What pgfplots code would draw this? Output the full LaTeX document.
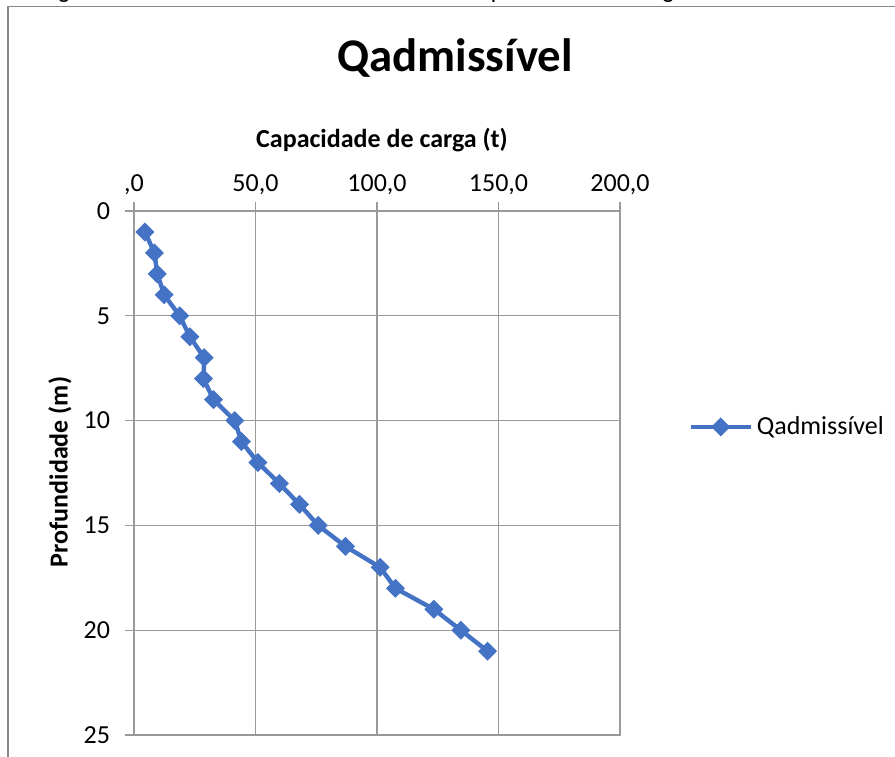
\documentclass[border=0pt]{standalone}
\usepackage{fontspec}
\setmainfont{Carlito}
\newfontfamily\arialf{Liberation Sans}
\usepackage{pgfplots}
\pgfplotsset{compat=1.18}
\definecolor{xlblue}{HTML}{4472C4}
\definecolor{gridgray}{HTML}{9A9A9A}
\definecolor{bordergray}{HTML}{888888}
\begin{document}
\begin{tikzpicture}[x=1pt,y=1pt]
\useasboundingbox (-67,-10.5) rectangle (380.5,367.5);
\clip (-67,-10.5) rectangle (380.5,367.5);
\node[anchor=base west, inner sep=0pt, font=\arialf\fontsize{12}{12}\selectfont] at (-48.5,368.6) {Figura 8 - Gráfico dos dados obtidos de capacidade de carga};
\draw[bordergray, line width=0.6pt] (-63,364.2) rectangle (400,-30);
\begin{axis}[
  at={(0,0)}, anchor=south west,
  scale only axis, width=243pt, height=262pt,
  xmin=0, xmax=200, ymin=0, ymax=25, y dir=reverse,
  xtick={0,50,100,150,200},
  xticklabels={{,0},{50,0},{100,0},{150,0},{200,0}},
  ytick={0,5,10,15,20,25},
  yticklabels={0,5,10,15,20,25},
  xtick pos=upper, xticklabel pos=upper, ytick pos=left,
  grid=major, grid style={gridgray, line width=0.6pt},
  axis line style={gridgray, line width=0.6pt},
  tick style={gridgray, line width=0.6pt},
  tick align=outside, major tick length=4.5pt,
  xticklabel style={font=\fontsize{13}{13}\selectfont, text=black},
  yticklabel style={font=\fontsize{13}{13}\selectfont, text=black, xshift=-4pt},
  legend style={at={(1.14,0.588)}, anchor=west, draw=none, fill=none,
    font=\fontsize{13}{13}\selectfont, inner sep=0pt},
  legend image code/.code={\draw[mark repeat=2,mark phase=2,#1] plot coordinates {(0pt,0pt) (15pt,0pt) (30pt,0pt)};},
  clip=false,
]
\addplot[color=xlblue, line width=2.2pt, mark=square*, mark size=3.1pt, mark options={solid, rotate=45, fill=xlblue, line width=0.5pt}]
coordinates {
(4.5,1) (8.4,2) (9.6,3) (12.4,4) (18.8,5) (23.0,6) (28.9,7) (28.6,8) (32.7,9)
(41.5,10) (44.2,11) (51.0,12) (59.8,13) (68.1,14) (75.8,15) (87.0,16)
(101.3,17) (107.6,18) (123.4,19) (134.5,20) (145.5,21)
};
\addlegendentry{Qadmissível}
\end{axis}
\node[anchor=base, font=\bfseries\fontsize{23.4}{23.4}\selectfont] at (160.5,331.5) {Qadmissível};
\node[anchor=base, font=\bfseries\fontsize{13}{13}\selectfont] at (124,293.5) {Capacidade de carga (t)};
\node[rotate=90, font=\bfseries\fontsize{13}{13}\selectfont] at (-37,131.5) {Profundidade (m)};
\end{tikzpicture}
\end{document}
